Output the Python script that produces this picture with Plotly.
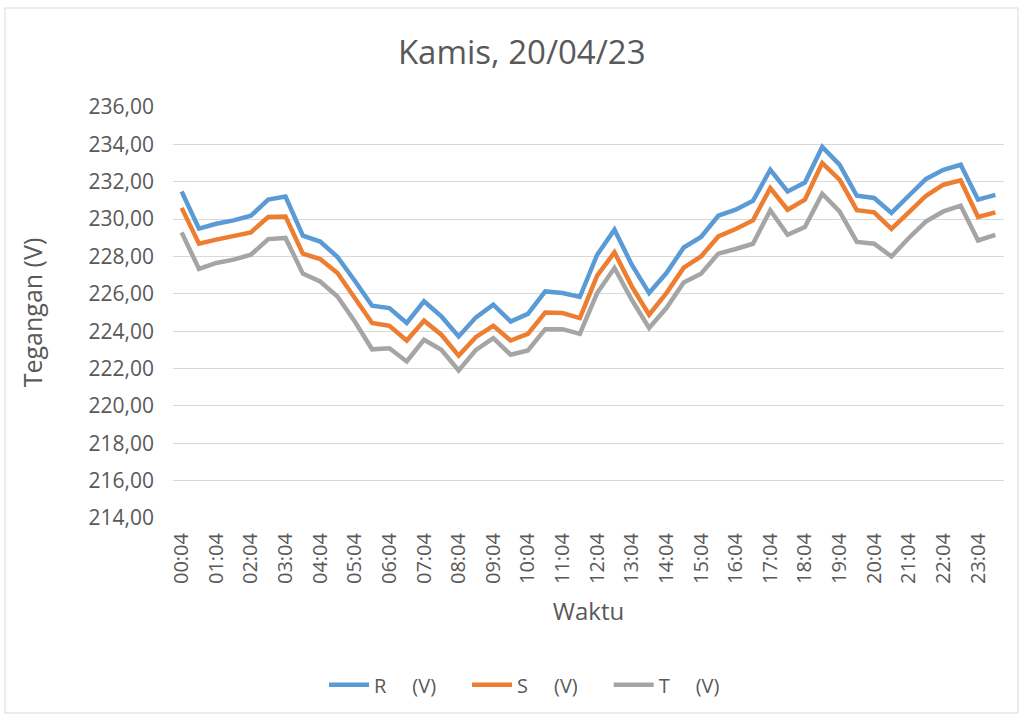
import plotly.graph_objects as go

waktu = [
    "00:04", "00:34", "01:04", "01:34", "02:04", "02:34", "03:04", "03:34",
    "04:04", "04:34", "05:04", "05:34", "06:04", "06:34", "07:04", "07:34",
    "08:04", "08:34", "09:04", "09:34", "10:04", "10:34", "11:04", "11:34",
    "12:04", "12:34", "13:04", "13:34", "14:04", "14:34", "15:04", "15:34",
    "16:04", "16:34", "17:04", "17:34", "18:04", "18:34", "19:04", "19:34",
    "20:04", "20:34", "21:04", "21:34", "22:04", "22:34", "23:04", "23:34",
]

r_v = [231.48, 229.49, 229.75, 229.93, 230.18, 231.04, 231.21, 229.11, 228.80, 227.97,
       226.70, 225.36, 225.24, 224.44, 225.60, 224.79, 223.72, 224.74, 225.42, 224.52,
       224.93, 226.13, 226.04, 225.83, 228.09, 229.43, 227.56, 226.04, 227.11, 228.48,
       229.04, 230.18, 230.50, 230.98, 232.64, 231.48, 231.96, 233.86, 232.91, 231.25,
       231.13, 230.33, 231.25, 232.15, 232.64, 232.91, 231.04, 231.30]

s_v = [230.60, 228.68, 228.90, 229.07, 229.29, 230.11, 230.14, 228.15, 227.86, 227.11,
       225.80, 224.44, 224.29, 223.50, 224.56, 223.81, 222.69, 223.69, 224.29, 223.50,
       223.86, 225.00, 224.97, 224.70, 226.97, 228.22, 226.40, 224.88, 226.04, 227.40,
       228.00, 229.07, 229.47, 229.93, 231.66, 230.50, 231.04, 233.00, 232.11, 230.48,
       230.36, 229.47, 230.36, 231.25, 231.84, 232.07, 230.11, 230.36]

t_v = [229.29, 227.33, 227.65, 227.83, 228.09, 228.93, 228.99, 227.08, 226.66, 225.86,
       224.52, 223.03, 223.09, 222.38, 223.54, 223.00, 221.90, 223.00, 223.63, 222.74,
       222.97, 224.11, 224.11, 223.86, 226.04, 227.38, 225.68, 224.17, 225.24, 226.61,
       227.08, 228.15, 228.40, 228.68, 230.47, 229.16, 229.58, 231.36, 230.41, 228.78,
       228.68, 228.00, 228.99, 229.88, 230.41, 230.72, 228.86, 229.16]

tick_labels = waktu[::2]
y_ticks = [214, 216, 218, 220, 222, 224, 226, 228, 230, 232, 234, 236]

NB = "\u00a0"
series_names = ["R" + NB * 5 + "(V)" + NB * 5,
                "S" + NB * 5 + "(V)" + NB * 5,
                "T" + NB * 5 + "(V)"]
colors = ["#5B9BD5", "#ED7D31", "#A5A5A5"]

FONT = "Open Sans"
TXT = "#595959"

fig = go.Figure()
for name, vals, col in zip(series_names, [r_v, s_v, t_v], colors):
    fig.add_trace(go.Scatter(x=waktu, y=vals, mode="lines", name=name,
                             line=dict(color=col, width=4.5)))

fig.update_layout(
    width=1023, height=717,
    margin=dict(l=173, r=19, t=107, b=199, autoexpand=False),
    paper_bgcolor="white", plot_bgcolor="white",
    separators=",.",
    font=dict(family=FONT, color=TXT, size=20),
    title=dict(text="Kamis, 20/04/23", font=dict(size=33, color=TXT, family=FONT),
               x=0.51, xref="container", xanchor="center",
               y=1 - 52 / 717, yref="container", yanchor="middle"),
    legend=dict(orientation="h", x=0.423, xanchor="center", y=-0.406, yanchor="middle",
                font=dict(size=20, color=TXT), itemwidth=40, bgcolor="rgba(0,0,0,0)"),
    showlegend=True,
)

fig.update_xaxes(
    type="category", categoryorder="array", categoryarray=waktu,
    range=[-0.5, len(waktu) - 0.5],
    tickmode="array", tickvals=tick_labels, ticktext=tick_labels,
    tickangle=-90, tickfont=dict(size=20, color=TXT),
    showgrid=False, showline=False, zeroline=False, ticks="",
    ticklabelstandoff=10,
    title=dict(text="Waktu", font=dict(size=24, color=TXT), standoff=20),
)

fig.update_yaxes(
    range=[214, 236], tickmode="array", tickvals=y_ticks, tickformat=".2f",
    tickfont=dict(size=21, color=TXT),
    showgrid=True, gridcolor="#D9D9D9", gridwidth=1.3,
    zeroline=False, showline=False, ticks="", ticklabelstandoff=18,
    title=dict(text="Tegangan (V)", font=dict(size=25, color=TXT), standoff=38),
)

# outer chart border
fig.add_shape(type="rect", xref="paper", yref="paper",
              x0=(5 - 173) / 831, x1=(1018 - 173) / 831,
              y0=(518 - 713) / 411, y1=(518 - 8) / 411,
              line=dict(color="#D9D9D9", width=1), fillcolor="rgba(0,0,0,0)", layer="below")

fig.write_html("out.html",
               config={"displayModeBar": False},
               post_script="document.body.style.margin='0';document.body.style.overflow='hidden';")
